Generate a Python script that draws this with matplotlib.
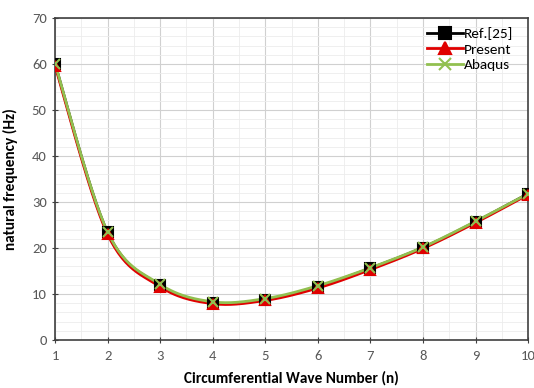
import numpy as np
import matplotlib
matplotlib.use("Agg")
import matplotlib.pyplot as plt
from matplotlib.ticker import MultipleLocator

n = [1, 2, 3, 4, 5, 6, 7, 8, 9, 10]
ref25 = [60.0, 23.4, 11.9, 8.1, 8.8, 11.6, 15.6, 20.1, 25.7, 31.8]
present = [59.6, 23.0, 11.6, 7.9, 8.6, 11.3, 15.3, 19.9, 25.5, 31.6]
abaqus = [60.1, 23.5, 12.1, 8.3, 9.0, 11.8, 15.7, 20.2, 25.8, 31.8]

plt.rcParams['font.family'] = ['Carlito', 'DejaVu Sans']


def smooth(xs, ys, steps=30):
    p = np.column_stack([xs, ys]).astype(float)
    pts = np.vstack([p[0], p, p[-1]])
    out = []
    for i in range(1, len(pts) - 2):
        p0, p1, p2, p3 = pts[i - 1], pts[i], pts[i + 1], pts[i + 2]
        c1 = p1 + (p2 - p0) / 6.0
        c2 = p2 - (p3 - p1) / 6.0
        t = np.linspace(0, 1, steps)[:, None]
        seg = ((1 - t) ** 3) * p1 + 3 * ((1 - t) ** 2) * t * c1 + 3 * (1 - t) * t ** 2 * c2 + t ** 3 * p2
        out.append(seg if i == 1 else seg[1:])
    s = np.vstack(out)
    return s[:, 0], s[:, 1]


fig = plt.figure(figsize=(5.34, 3.88), dpi=100)
ax = fig.add_axes([0.103, 0.1237, 0.886, 0.83])

series = [
    (ref25, 'Ref.[25]', 'black', 's', 'black'),
    (present, 'Present', '#e00000', '^', '#e00000'),
    (abaqus, 'Abaqus', '#92c050', 'x', '#92c050'),
]
for ys, lab, col, mk, mc in series:
    sx, sy = smooth(n, ys)
    ax.plot(sx, sy, color=col, lw=2.0, zorder=3)
    ax.plot(n, ys, linestyle='none', marker=mk, ms=7, color=mc, mec=mc, mew=1.5, zorder=4)
    ax.plot([], [], color=col, lw=2.0, marker=mk, ms=8, mew=1.5, label=lab)

ax.set_xlim(1, 10)
ax.set_ylim(0, 70)
ax.xaxis.set_major_locator(MultipleLocator(1))
ax.xaxis.set_minor_locator(MultipleLocator(0.5))
ax.yaxis.set_major_locator(MultipleLocator(10))
ax.yaxis.set_minor_locator(MultipleLocator(2))
ax.grid(which='major', color='#d0d0d0', lw=0.8)
ax.grid(which='minor', color='#ececec', lw=0.6)
ax.set_axisbelow(True)
ax.tick_params(which='minor', length=0)
ax.tick_params(which='major', direction='inout', length=5, color='#404040', labelsize=10.5, labelcolor='#595959')
ax.tick_params(axis='x', pad=5)
for sp in ax.spines.values():
    sp.set_color('#404040')
    sp.set_linewidth(1.2)

ax.set_xlabel('Circumferential Wave Number (n)', fontsize=11, fontweight='bold', labelpad=6)
ax.set_ylabel('natural frequency (Hz)', fontsize=11, fontweight='bold', labelpad=10)

ax.legend(loc='upper right', frameon=False, fontsize=11, handlelength=2.3,
          handletextpad=0.1, bbox_to_anchor=(0.995, 1.01), borderaxespad=0.4, labelspacing=0.2)

fig.savefig('out.png', dpi=100)
